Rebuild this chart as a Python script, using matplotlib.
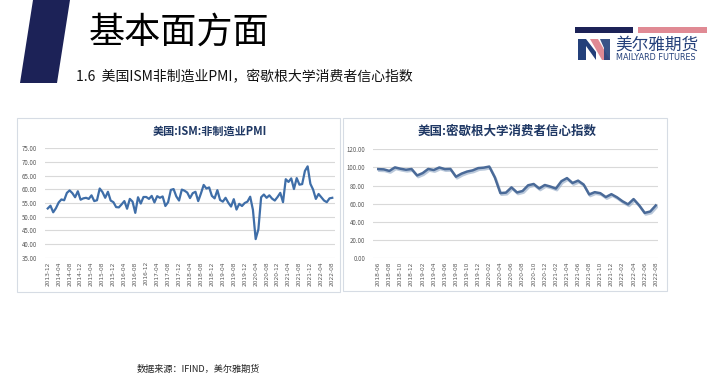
import numpy as np
import pandas as pd
import matplotlib
matplotlib.use("Agg")
import matplotlib.pyplot as plt
from matplotlib.patches import Polygon, Rectangle
import matplotlib.patheffects as pe

plt.rcParams['font.family'] = ['Noto Sans CJK SC', 'DejaVu Sans']

# ---------------- data ----------------
pmi_months = [p.strftime('%Y-%m') for p in pd.period_range('2013-12', '2022-08', freq='M')]
pmi_values = [
    53.0,
    54.0, 51.6, 53.1, 55.2, 56.3, 56.0, 58.7, 59.6, 58.6, 57.1, 59.3, 56.2,
    56.7, 56.9, 56.5, 57.8, 55.7, 56.0, 60.3, 59.0, 56.9, 59.1, 55.9, 55.3,
    53.5, 53.4, 54.5, 55.7, 52.9, 56.5, 55.5, 51.4, 57.1, 54.8, 57.2, 57.2,
    56.5, 57.6, 55.2, 57.5, 56.9, 57.4, 53.9, 55.3, 59.8, 60.1, 57.4, 55.9,
    59.9, 59.5, 58.8, 56.8, 58.6, 59.1, 55.7, 58.5, 61.6, 60.3, 60.7, 57.6,
    56.7, 59.7, 56.1, 55.5, 56.9, 55.1, 53.7, 56.4, 52.6, 54.7, 53.9, 55.0,
    55.5, 57.3, 52.5, 41.8, 45.4, 57.1, 58.1, 56.9, 57.8, 56.6, 55.9, 57.2,
    58.7, 55.3, 63.7, 62.7, 64.0, 60.1, 64.1, 61.7, 61.9, 66.7, 68.4, 62.0,
    59.9, 56.5, 58.3, 57.1, 55.9, 55.3, 56.7, 56.9,
]
pmi_yticks = [35, 40, 45, 50, 55, 60, 65, 70, 75]

mich_months = [p.strftime('%Y-%m') for p in pd.period_range('2018-06', '2022-08', freq='M')]
mich_values = [
    98.2, 97.9, 96.2, 100.1, 98.6, 97.5, 98.3,
    91.2, 93.8, 98.4, 97.2, 100.0, 98.2, 98.4, 89.8, 93.2, 95.5, 96.8, 99.3,
    99.8, 101.0, 89.1, 71.8, 72.3, 78.1, 72.5, 74.1, 80.4, 81.8, 76.9, 80.7,
    79.0, 76.8, 84.9, 88.3, 82.9, 85.5, 81.2, 70.3, 72.8, 71.7, 67.4, 70.6,
    67.2, 62.8, 59.4, 65.2, 58.4, 50.0, 51.5, 58.2,
]
mich_yticks = [0, 20, 40, 60, 80, 100, 120]

page_title = '基本面方面'
subtitle = '1.6  美国ISM非制造业PMI，密歇根大学消费者信心指数'
pmi_title = '美国:ISM:非制造业PMI'
mich_title = '美国:密歇根大学消费者信心指数'
source = '数据来源：IFIND，美尔雅期货'

# ---------------- figure ----------------
W, H = 723, 384
fig = plt.figure(figsize=(W / 100, H / 100), dpi=100)
fig.patch.set_facecolor('white')

bg = fig.add_axes([0, 0, 1, 1])
bg.set_xlim(0, W)
bg.set_ylim(H, 0)
bg.axis('off')

NAVY = '#1C2257'
PINK = '#E08A94'
LOGO_BLUE = '#24407A'

# header parallelogram
bg.add_patch(Polygon([(33, 0), (70, 0), (57, 83), (20, 83)], closed=True,
                     facecolor=NAVY, edgecolor='none'))
bg.text(89, 33, page_title, fontsize=26, color='black', ha='left', va='center')
bg.text(76, 77, subtitle, fontsize=10, color='#111111', ha='left', va='center')

# logo
bg.add_patch(Rectangle((575, 27), 58, 6, facecolor=NAVY, edgecolor='none'))
bg.add_patch(Rectangle((638, 27), 69, 6, facecolor=PINK, edgecolor='none'))
bg.add_patch(Polygon([(578, 60), (578, 39), (586, 39), (596, 52), (596, 60), (586, 46), (586, 60)],
                     closed=True, facecolor=LOGO_BLUE, edgecolor='none'))
bg.add_patch(Polygon([(590, 39), (598, 39), (610, 60), (602, 60)],
                     closed=True, facecolor=PINK, edgecolor='none'))
bg.add_patch(Polygon([(600, 39), (610, 39), (610, 60), (604, 60), (604, 48)],
                     closed=True, facecolor=LOGO_BLUE, edgecolor='none', alpha=0.9))
bg.text(615, 45, '美尔雅期货', fontsize=12, color=LOGO_BLUE, ha='left', va='center')
bg.text(616, 57, 'MAILYARD FUTURES', fontsize=5.9, color=LOGO_BLUE, ha='left', va='center',
        family=['DejaVu Sans'])

# panels
bg.add_patch(Rectangle((17, 118), 323, 174, facecolor='white', edgecolor='#D6DCE4', lw=0.8))
bg.add_patch(Rectangle((343, 118), 324, 173, facecolor='white', edgecolor='#D6DCE4', lw=0.8))

bg.text(210, 131, pmi_title, fontsize=8, fontweight='bold', color='#1F3864',
        ha='center', va='center')
bg.text(507, 131, mich_title, fontsize=9, fontweight='bold', color='#1F3864',
        ha='center', va='center')

bg.text(137, 369, source, fontsize=6.6, color='#222222', ha='left', va='center')


def style_axis(ax, yticks, months, step, fmt):
    ax.patch.set_visible(False)
    for s in ax.spines.values():
        s.set_visible(False)
    ax.set_yticks(yticks)
    ax.set_yticklabels([fmt.format(v) for v in yticks], fontsize=4.4, color='#595959')
    ax.yaxis.grid(True, color='#D9D9D9', lw=0.8)
    ax.set_axisbelow(True)
    idx = list(range(0, len(months), step))
    ax.set_xticks(idx)
    ax.set_xticklabels([months[i] for i in idx], rotation=90, fontsize=4.2,
                       color='#595959', family=['DejaVu Sans'])
    ax.tick_params(axis='x', length=0, pad=2.5)
    ax.tick_params(axis='y', length=0, pad=5.5)


def fx(px):
    return px / W


def fy(top, bottom):
    return (H - bottom) / H, (bottom - top) / H


# left chart
b, h = fy(148.3, 257.7)
ax1 = fig.add_axes([fx(45), b, fx(290), h])
x1 = np.arange(len(pmi_values))
ax1.plot(x1, pmi_values, color='#3F6EA8', lw=1.6, solid_joinstyle='round')
ax1.set_xlim(-1, len(pmi_values))
ax1.set_ylim(35, 75)
style_axis(ax1, pmi_yticks, pmi_months, 4, '{:.2f}')

# right chart
b, h = fy(149.3, 258.3)
ax2 = fig.add_axes([fx(373), b, fx(285), h])
x2 = np.arange(len(mich_values))
ax2.plot(x2, mich_values, color='#4A6A98', lw=1.8, solid_joinstyle='round',
         path_effects=[pe.SimpleLineShadow(offset=(0.8, -1.2), shadow_color='#8FA6C4', alpha=0.6),
                       pe.Normal()])
ax2.set_xlim(-0.95, 50.4)
ax2.set_ylim(0, 120)
style_axis(ax2, mich_yticks, mich_months, 2, '{:.2f}')

fig.savefig('out.png', dpi=100, facecolor='white')
